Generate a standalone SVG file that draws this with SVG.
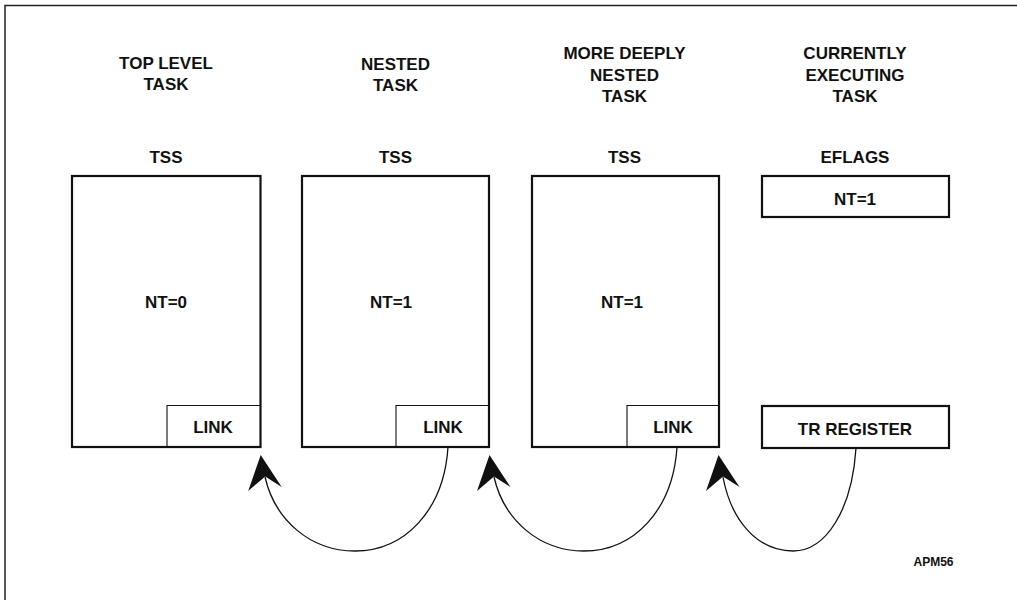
<svg xmlns="http://www.w3.org/2000/svg" width="1017" height="600" viewBox="0 0 1017 600">
<style>
  .t{font-family:"Liberation Sans",Arial,sans-serif;font-weight:bold;font-size:17px;fill:#111;text-anchor:middle}
  .s{font-family:"Liberation Sans",Arial,sans-serif;font-weight:bold;font-size:12px;fill:#111;text-anchor:middle}
  .box{fill:#fff;stroke:#111;stroke-width:2.2}
  .inner{fill:none;stroke:#111;stroke-width:1.1}
  .curve{fill:none;stroke:#111;stroke-width:1.3}
</style>
<defs>
  <path id="ah" d="M0,0 L21,32 L4.5,21.5 L-12.5,36 Z" fill="#111"/>
</defs>
<rect x="0" y="0" width="1017" height="600" fill="#fff"/>
<rect x="5" y="5.5" width="1100" height="700" fill="none" stroke="#222" stroke-width="1.5"/>

<g id="col1">
  <text class="t" x="166" y="69">TOP LEVEL</text>
  <text class="t" x="166" y="90">TASK</text>
  <text class="t" x="166" y="163">TSS</text>
</g>
<g id="tss1">
  <rect class="box" x="72" y="176" width="188.5" height="271"/>
  <text class="t" x="166" y="308">NT=0</text>
</g>
<g id="link1">
  <path class="inner" d="M167,447 V405.5 H260.5"/>
  <text class="t" x="213" y="433">LINK</text>
</g>

<g id="col2">
  <text class="t" x="395.5" y="70">NESTED</text>
  <text class="t" x="395.5" y="91">TASK</text>
  <text class="t" x="395.5" y="163">TSS</text>
</g>
<g id="tss2">
  <rect class="box" x="302" y="176" width="187" height="271"/>
  <text class="t" x="391" y="308">NT=1</text>
</g>
<g id="link2">
  <path class="inner" d="M396,447 V405.5 H489"/>
  <text class="t" x="443" y="433">LINK</text>
</g>

<g id="col3">
  <text class="t" x="624.5" y="59">MORE DEEPLY</text>
  <text class="t" x="624.5" y="81">NESTED</text>
  <text class="t" x="624.5" y="102">TASK</text>
  <text class="t" x="624.5" y="163">TSS</text>
</g>
<g id="tss3">
  <rect class="box" x="532" y="176" width="187" height="271"/>
  <text class="t" x="622" y="308">NT=1</text>
</g>
<g id="link3">
  <path class="inner" d="M627,447 V405.5 H719"/>
  <text class="t" x="673" y="433">LINK</text>
</g>

<g id="col4">
  <text class="t" x="855" y="59">CURRENTLY</text>
  <text class="t" x="855" y="81">EXECUTING</text>
  <text class="t" x="855" y="102">TASK</text>
  <text class="t" x="855" y="163">EFLAGS</text>
</g>
<g id="eflags">
  <rect class="box" x="762" y="176" width="187" height="41"/>
  <text class="t" x="855" y="205">NT=1</text>
</g>
<g id="tr">
  <rect class="box" x="762" y="406" width="187" height="42"/>
  <text class="t" x="855" y="435">TR REGISTER</text>
</g>

<g id="connectors">
  <path class="curve" d="M448,447 C444,510 405,551 355,551 C310,551 275,520 265,477"/>
  <use href="#ah" transform="translate(260.7,455)"/>
  <path class="curve" d="M677,447 C673,510 634,551 584,551 C539,551 504,520 494,477"/>
  <use href="#ah" transform="translate(489.5,455)"/>
  <path class="curve" d="M856,448 C852,510 826,551 793,551 C757,551 731,520 723,477"/>
  <use href="#ah" transform="translate(718.5,455)"/>
</g>

<text class="s" x="933.5" y="566">APM56</text>
</svg>
